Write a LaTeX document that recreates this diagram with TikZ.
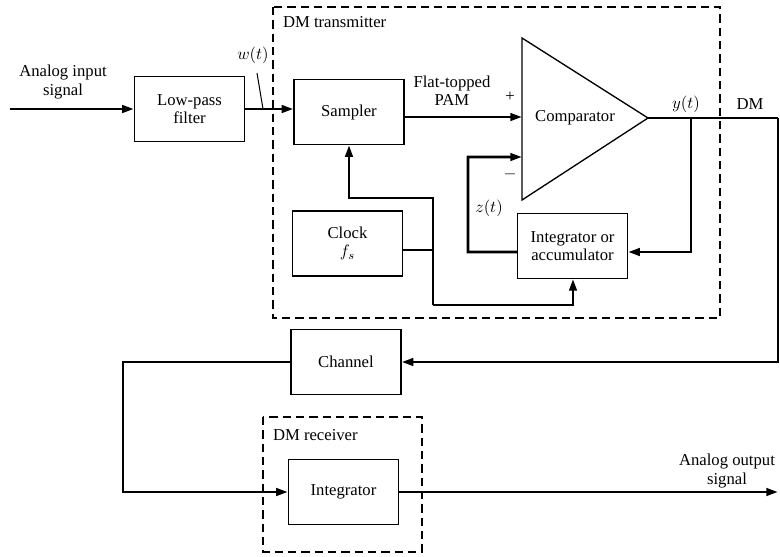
\documentclass[tikz,border=0pt]{standalone}
\usepackage{fontspec}
\setmainfont{Liberation Serif}
\usetikzlibrary{arrows.meta,calc}
\begin{document}
\begin{tikzpicture}[x=0.6pt,y=-0.6pt,
  font=\fontsize{10}{11}\selectfont,
  blk/.style={draw,line width=0.8pt,minimum width=66pt,minimum height=39pt,align=center,inner sep=1pt},
  conn/.style={line width=1.6pt},
  arr/.style={conn,-{Triangle[length=7pt,width=4.5pt]}},
  dbox/.style={draw,line width=0.8pt,dash pattern=on 5pt off 3pt},
  lbl/.style={align=center,inner sep=1pt}]
\useasboundingbox (0,0) rectangle (780,556);
% dashed enclosures
\draw[dbox] (273,7) rectangle (720,318);
\draw[dbox] (263,417) rectangle (422,552);
\node[lbl,anchor=west] (txlbl) at (281,22) {DM transmitter};
\node[lbl,anchor=west] (rxlbl) at (271,435) {DM receiver};
% blocks
\node[blk] (lpf) at (189.5,109) {Low-pass\\filter};
\node[blk] (samp) at (349,112) {Sampler};
\node[blk] (clock) at (347.5,243.5) {Clock\\$f_s$};
\node[blk] (acc) at (572.5,246) {Integrator or\\accumulator};
\node[blk] (chan) at (346,362) {Channel};
\node[blk] (integ) at (343.5,492) {Integrator};
% comparator
\coordinate (ctop) at (522,38);
\coordinate (cbot) at (522,200);
\coordinate (cout) at (648,118);
\coordinate (cplus) at (522,117);
\coordinate (cminus) at (522,157);
\draw[line width=0.8pt] (ctop) -- (cout) -- (cbot) -- cycle;
\node[lbl] (comp) at (575,118) {Comparator};
\node[lbl] (plus) at (510,97) {+};
\node[lbl] (minus) at (510,174) {$-$};
% input
\coordinate (in) at (10,109);
\node[lbl] (inlbl) at (63,82) {Analog input\\signal};
\draw[arr] (in) -- (lpf.west);
\draw[arr] (lpf.east) -- (lpf.east -| samp.west);
\coordinate (wt1) at (257,73);
\coordinate (wt2) at (263,109);
\draw[line width=0.6pt] (wt1) -- (wt2);
\node[lbl] (wt) at (253,55) {$w(t)$};
% sampler to comparator
\node[lbl] (pam) at (452,91) {Flat-topped\\PAM};
\draw[arr] (samp.east |- cplus) -- (cplus);
% output
\coordinate (ytap) at (691,118);
\coordinate (dmc) at (778,118);
\node[lbl] (yt) at (686,104) {$y(t)$};
\node[lbl] (dm) at (750,104) {DM};
\coordinate (accR) at ([yshift=-3.6pt]acc.east);
\coordinate (accL) at ([yshift=-3.6pt]acc.west);
\draw[conn] (cout) -- (dmc);
\draw[arr] (ytap) -- (ytap |- accR) -- (accR);
% feedback z(t)
\coordinate (zc) at (468,252);
\draw[arr] (accL) -- (zc) -- (zc |- cminus) -- (cminus);
\node[lbl] (zt) at (489,208) {$z(t)$};
% clock
\coordinate (cj) at (433,250);
\coordinate (cjt) at (433,198);
\coordinate (cjb) at (433,305);
\draw[conn] (cj -| clock.east) -- (cj);
\draw[arr] (cjb) -- (cjt) -- (cjt -| samp.south) -- (samp.south);
\coordinate (accB) at (573,279);
\draw[arr] (cjb) -- (cjb -| accB) -- (accB);
% to channel
\draw[arr] (dmc) -- (dmc |- chan.east) -- (chan.east);
\coordinate (cl) at (123,362);
\draw[arr] (chan.west) -- (cl) -- (cl |- integ.west) -- (integ.west);
% output
\coordinate (out) at (778,492);
\draw[arr] (integ.east) -- (out);
\node[lbl] (outlbl) at (727,471) {Analog output\\signal};
\end{tikzpicture}
\end{document}
